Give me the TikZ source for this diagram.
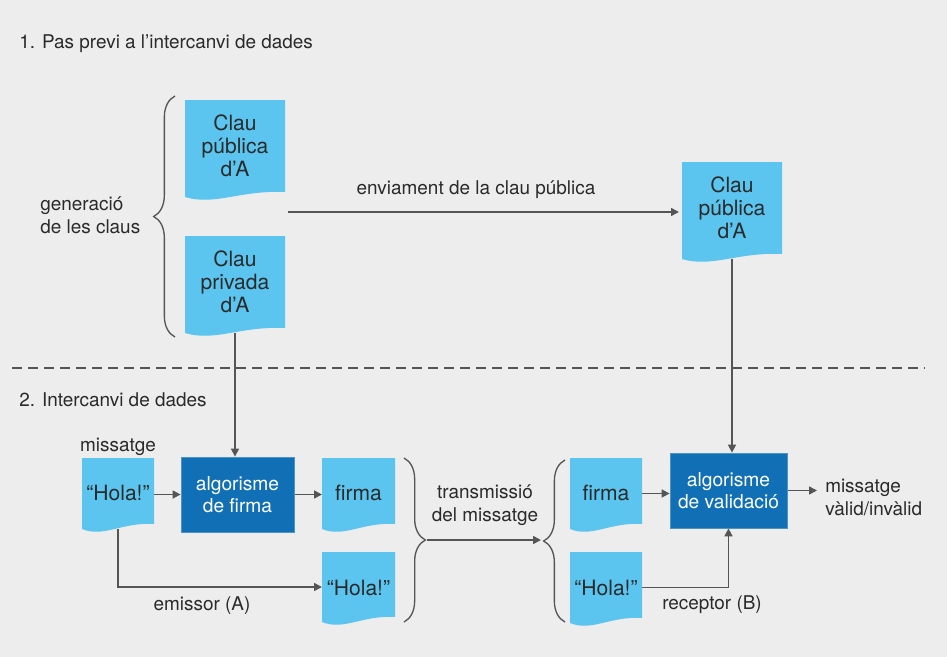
\documentclass[tikz,border=0pt]{standalone}
\usepackage{fontspec}
\setmainfont{TeX Gyre Heros}
\usetikzlibrary{arrows.meta,decorations.pathreplacing,calc}
\definecolor{bgc}{HTML}{EDEDED}
\definecolor{docblue}{HTML}{5BC5EF}
\definecolor{boxblue}{HTML}{1170B5}
\definecolor{linec}{HTML}{555555}
\definecolor{txt}{HTML}{2A2A2A}
\pgfdeclarelayer{back}
\pgfdeclarelayer{lines}
\pgfsetlayers{back,lines,main}
\newcommand\docnode[7]{%
  \fill[docblue] (#2,#3) -- (#4,#3) -- (#4,#5) .. controls ({#4-0.45*(#4-#2)},{#5-2}) and ({#2+0.3*(#4-#2)},{#5+14}) .. (#2,{#5+5}) -- cycle;
  \node[region, minimum width={(#4-#2)*0.75pt}, minimum height={(#5+5-#3)*0.75pt}] (#1) at ({(#2+#4)/2},{(#3+#5+5)/2}) {};
  \node[doctext] (#1-t) at ({(#2+#4)/2},#6) {#7};
}
\begin{document}
\begin{tikzpicture}[x=0.75pt,y=-0.75pt,
  region/.style={inner sep=0pt, outer sep=0pt, draw=none, rectangle},
  doctext/.style={font=\fontsize{15.8}{17.25}\selectfont, text=txt, align=center, inner sep=0pt},
  lbl/.style={font=\fontsize{14.2}{17.25}\selectfont, text=txt, align=center, inner sep=0pt},
  algbox/.style={fill=boxblue, draw=boxblue!75!white, line width=0.6pt, text=white, font=\fontsize{14.4}{16.5}\selectfont, align=center, inner sep=0pt},
  arr/.style={draw=linec, line width=1.2pt, -{Triangle[length=6pt,width=6pt]}},
  brc/.style={draw=linec, line width=1pt, decorate, decoration={brace, amplitude=16pt}},
  sep/.style={draw=linec, line width=1.1pt, dash pattern=on 7.5pt off 4.5pt}]
\begin{pgfonlayer}{back}
\fill[bgc] (0,0) rectangle (947,657);
\end{pgfonlayer}
\useasboundingbox (0,0) rectangle (947,657);

% titles
\node[lbl, anchor=west] (t1) at (19,44) {1. Pas previ a l’intercanvi de dades};
\node[lbl, anchor=west] (t2) at (19,400) {2. Intercanvi de dades};

% part 1
\docnode{d1}{185}{100}{285}{192}{146}{Clau\\pública\\d’A}
\docnode{d2}{185}{236}{285}{328}{282}{Clau\\privada\\d’A}
\docnode{d3}{682}{162}{782}{254}{208}{Clau\\pública\\d’A}
\node[lbl, anchor=west, align=left] (gen) at (40,215) {generació\\de les claus};
\node[lbl] (env) at (476,190) {enviament de la clau pública};
\coordinate (b1a) at (175,337);
\coordinate (b1b) at (175,96);
\draw[brc] (b1a) -- (b1b);
\coordinate (e1) at (288,212);

\draw[sep] (12,368) -- (925,368);

% part 2
\docnode{m1}{82}{458}{154}{524}{493}{“Hola!”}
\docnode{f1}{322}{458}{395}{524}{493}{firma}
\docnode{h1}{322}{552}{395}{617}{588}{“Hola!”}
\docnode{f2}{570}{458}{642}{524}{493}{firma}
\docnode{h2}{570}{552}{642}{618}{588}{“Hola!”}
\node[algbox, minimum width=84.75pt, minimum height=56.25pt] (alg1) at (237.5,494.5) {algorisme\\de firma};
\node[algbox, minimum width=87.75pt, minimum height=56.25pt] (alg2) at (728.5,490.5) {algorisme\\de validació};
\node[lbl] (mis) at (118,447) {missatge};
\node[lbl] (emi) at (202,606) {emissor (A)};
\node[lbl] (trans) at (485,505) {transmissió\\del missatge};
\node[lbl, anchor=west, align=left] (valid) at (825,497) {missatge\\vàlid/invàlid};
\node[lbl] (rec) at (712,605) {receptor (B)};
\coordinate (b2a) at (404,458);
\coordinate (b2b) at (404,622);
\draw[brc] (b2a) -- (b2b);
\coordinate (b3a) at (565,622);
\coordinate (b3b) at (565,460);
\draw[brc] (b3a) -- (b3b);
\coordinate (tipR) at (427,540);
\coordinate (tipL) at (541,540);
\coordinate (out) at (817,490.5);

\begin{pgfonlayer}{lines}
\draw[arr] (e1) -- ($(d3.west |- e1)+(-3,0)$);
\draw[arr] (d2.south) -- (d2.south |- alg1.north);
\draw[arr] (d3.south) -- (d3.south |- alg2.north);
\draw[arr] (m1.east |- alg1.west) -- (alg1.west);
\draw[arr] (alg1.east) -- (alg1.east -| f1.west);
\draw[arr] (m1.south) |- (h1.west);
\draw[arr] (tipR) -- (tipL);
\draw[arr] (f2.east) -- (f2.east -| alg2.west);
\draw[arr] (alg2.east) -- (out);
\draw[arr] (h2.east) -| (alg2.south);
\end{pgfonlayer}
\end{tikzpicture}
\end{document}
